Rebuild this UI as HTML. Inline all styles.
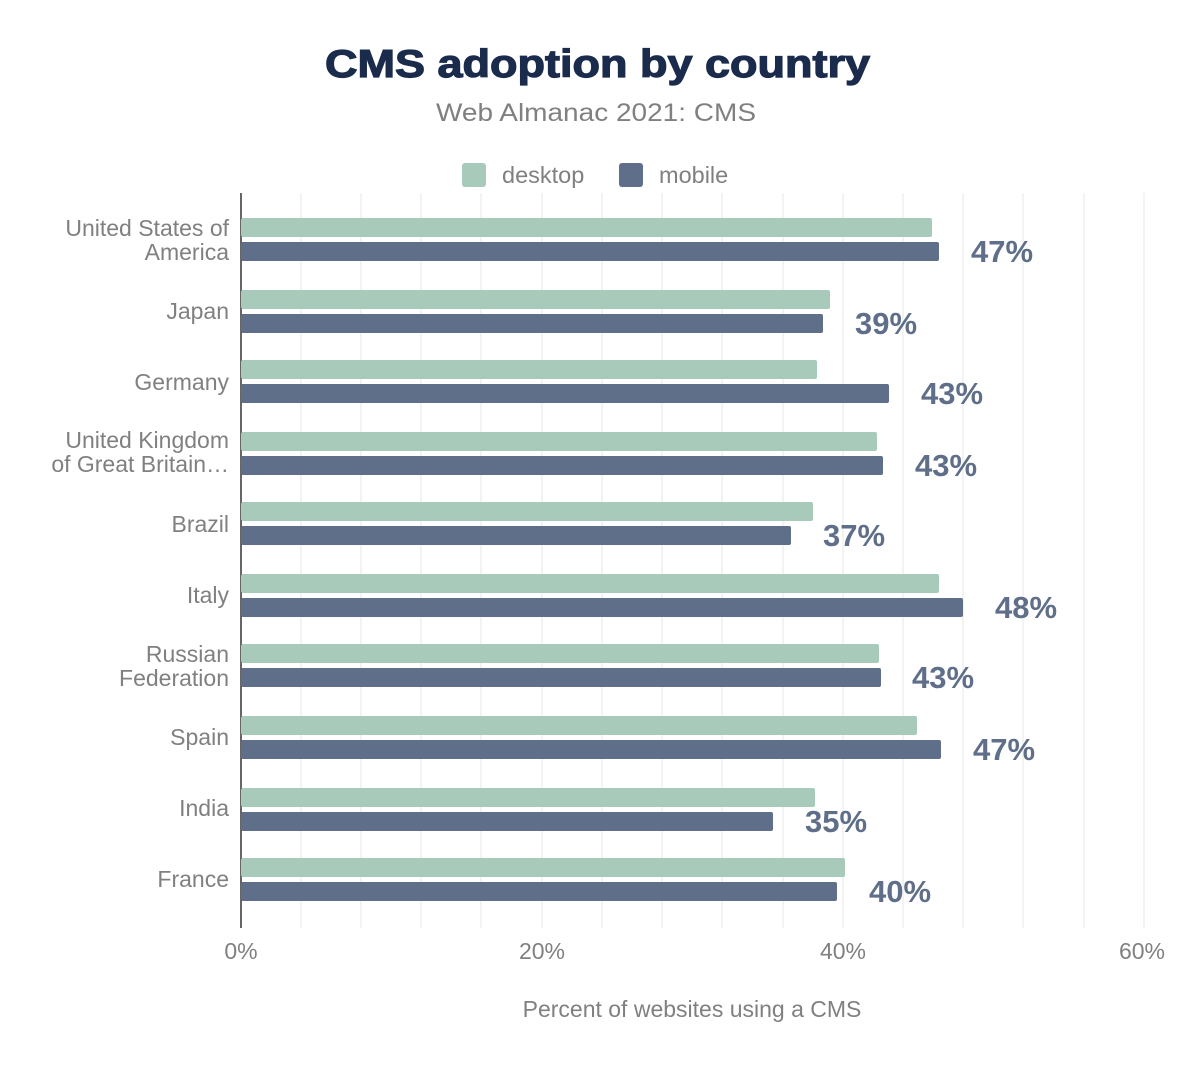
<!DOCTYPE html><html><head><meta charset="utf-8"><style>body{margin:0;background:#fff}svg{display:block}text{font-family:"Liberation Sans",sans-serif}</style></head><body>
<svg width="1200" height="1076" xmlns="http://www.w3.org/2000/svg">
<text x="325" y="77" textLength="545" lengthAdjust="spacingAndGlyphs" font-size="39" font-weight="bold" fill="#1a2b4c" stroke="#1a2b4c" stroke-width="1.2">CMS adoption by country</text>
<text x="436" y="121" textLength="320" lengthAdjust="spacingAndGlyphs" font-size="25" fill="#808080">Web Almanac 2021: CMS</text>
<rect x="462" y="163" width="24" height="24" rx="3" fill="#a8cabb"/><text x="502" y="183" font-size="23.5" fill="#808080">desktop</text>
<rect x="619" y="163" width="24" height="24" rx="3" fill="#5f6e89"/><text x="659" y="183" font-size="23.5" fill="#808080">mobile</text>
<g stroke="#efefef" stroke-width="1.5">
<line x1="301" y1="193" x2="301" y2="928"/><line x1="361" y1="193" x2="361" y2="928"/><line x1="421" y1="193" x2="421" y2="928"/><line x1="481" y1="193" x2="481" y2="928"/><line x1="542" y1="193" x2="542" y2="928"/><line x1="602" y1="193" x2="602" y2="928"/><line x1="662" y1="193" x2="662" y2="928"/><line x1="722" y1="193" x2="722" y2="928"/><line x1="783" y1="193" x2="783" y2="928"/><line x1="843" y1="193" x2="843" y2="928"/><line x1="903" y1="193" x2="903" y2="928"/><line x1="963" y1="193" x2="963" y2="928"/><line x1="1023" y1="193" x2="1023" y2="928"/><line x1="1084" y1="193" x2="1084" y2="928"/><line x1="1144" y1="193" x2="1144" y2="928"/>
</g>
<line x1="241" y1="193" x2="241" y2="928" stroke="#333" stroke-width="1.5"/>
<g font-size="23" fill="#808080" text-anchor="end">
<text x="229" y="236">United States of</text><text x="229" y="260">America</text>
<text x="229" y="319">Japan</text>
<text x="229" y="390">Germany</text>
<text x="229" y="448">United Kingdom</text><text x="229" y="472">of Great Britain…</text>
<text x="229" y="532">Brazil</text>
<text x="229" y="603">Italy</text>
<text x="229" y="662">Russian</text><text x="229" y="686">Federation</text>
<text x="229" y="745">Spain</text>
<text x="229" y="816">India</text>
<text x="229" y="887">France</text>
</g>
<g fill="#a8cabb">
<rect x="241" y="218" width="691" height="19" rx="2"/>
<rect x="241" y="290" width="589" height="19" rx="2"/>
<rect x="241" y="360" width="576" height="19" rx="2"/>
<rect x="241" y="432" width="636" height="19" rx="2"/>
<rect x="241" y="502" width="572" height="19" rx="2"/>
<rect x="241" y="574" width="698" height="19" rx="2"/>
<rect x="241" y="644" width="638" height="19" rx="2"/>
<rect x="241" y="716" width="676" height="19" rx="2"/>
<rect x="241" y="788" width="574" height="19" rx="2"/>
<rect x="241" y="858" width="604" height="19" rx="2"/>
</g>
<g fill="#5f6e89">
<rect x="241" y="242" width="698" height="19" rx="2"/>
<rect x="241" y="314" width="582" height="19" rx="2"/>
<rect x="241" y="384" width="648" height="19" rx="2"/>
<rect x="241" y="456" width="642" height="19" rx="2"/>
<rect x="241" y="526" width="550" height="19" rx="2"/>
<rect x="241" y="598" width="722" height="19" rx="2"/>
<rect x="241" y="668" width="640" height="19" rx="2"/>
<rect x="241" y="740" width="700" height="19" rx="2"/>
<rect x="241" y="812" width="532" height="19" rx="2"/>
<rect x="241" y="882" width="596" height="19" rx="2"/>
</g>
<g font-size="31" font-weight="bold" fill="#5f6e89">
<text x="971" y="262">47%</text>
<text x="855" y="334">39%</text>
<text x="921" y="404">43%</text>
<text x="915" y="476">43%</text>
<text x="823" y="546">37%</text>
<text x="995" y="618">48%</text>
<text x="912" y="688">43%</text>
<text x="973" y="760">47%</text>
<text x="805" y="832">35%</text>
<text x="869" y="902">40%</text>
</g>
<g font-size="23" fill="#808080" text-anchor="middle">
<text x="241" y="959">0%</text><text x="542" y="959">20%</text><text x="843" y="959">40%</text><text x="1142" y="959">60%</text>
<text x="692" y="1017">Percent of websites using a CMS</text>
</g>
</svg></body></html>
